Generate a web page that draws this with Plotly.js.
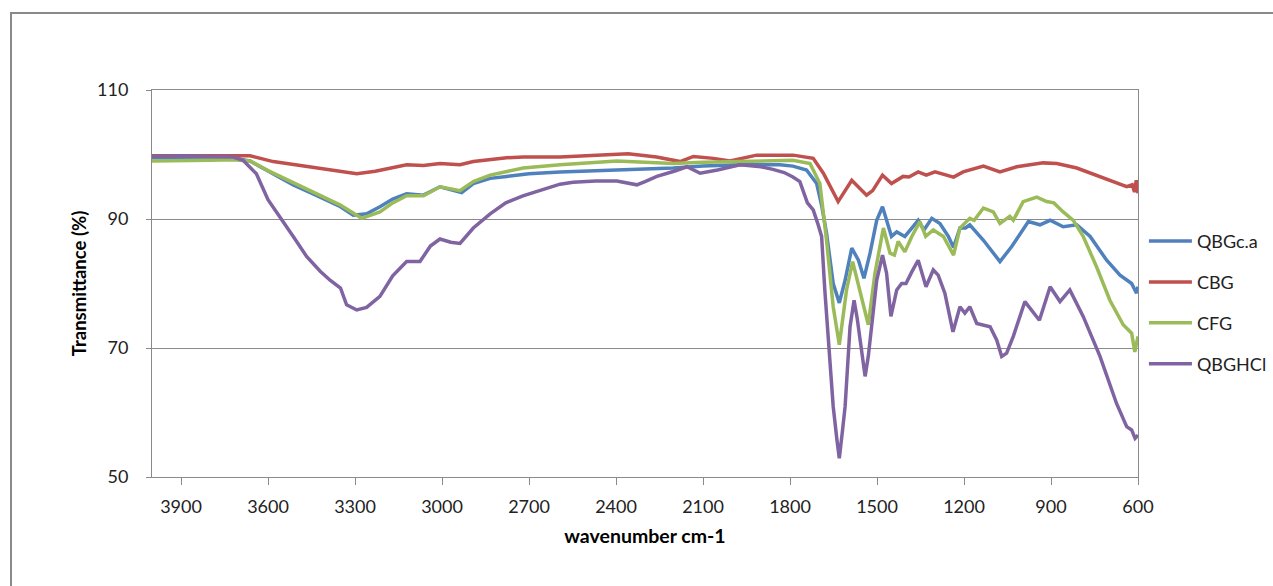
<!DOCTYPE html>
<html>
<head>
<meta charset="utf-8">
<script src="https://cdn.plot.ly/plotly-3.0.1.min.js"></script>
<style>
  html, body { margin: 0; padding: 0; background: #fff; }
  #frame { position: absolute; left: 10px; top: 12px; width: 1300px; height: 700px;
           border-left: 2px solid #8a8a8a; border-top: 2px solid #8a8a8a; pointer-events: none; }
  #chart { position: absolute; left: 0; top: 0; width: 1273px; height: 586px; }
</style>
</head>
<body>
<div id="chart"></div>
<div id="frame"></div>
<script>
// ---- Data ----
const seriesNames = ["QBGc.a", "CBG", "CFG", "QBGHCl"];

const qbgcaWn = [4000,3900,3800,3720,3662,3600,3513,3450,3398,3350,3306,3260,3214,3170,3122,3064,3007,2970,2932,2892,2834,2777,2700,2593,2470,2362,2300,2203,2100,1972,1835,1790,1743,1708,1690,1674,1651,1630,1610,1587,1564,1545,1524,1501,1481,1467,1450,1432,1404,1380,1358,1338,1311,1283,1254,1236,1214,1195,1180,1133,1076,1036,978,938,903,858,811,765,708,662,622,605,600];
const qbgcaT  = [99.5,99.5,99.5,99.4,99.0,97.5,95.3,94.0,92.9,91.9,90.6,90.8,91.9,93.1,93.9,93.7,95.0,94.6,94.1,95.5,96.3,96.6,97.0,97.3,97.5,97.6,97.7,97.9,98.2,98.4,98.4,98.2,97.6,95.5,91.9,87.8,80.0,77.0,80.5,85.5,83.6,80.8,84.7,89.8,91.9,89.8,87.3,88.0,87.3,88.6,89.8,88.3,90.1,89.3,87.3,85.6,88.6,88.6,89.1,86.7,83.4,85.7,89.6,89.1,89.8,88.8,89.1,87.3,83.6,81.3,80.0,78.5,79.5];

const cbgWn = [4000,3900,3800,3662,3582,3467,3380,3294,3230,3179,3122,3064,3007,2938,2892,2777,2720,2593,2470,2358,2260,2179,2133,2064,2007,1915,1835,1789,1720,1685,1634,1587,1536,1515,1481,1450,1410,1390,1358,1330,1300,1236,1203,1133,1076,1018,927,880,811,743,674,639,620,612,606,600];
const cbgT  = [99.8,99.8,99.8,99.8,98.9,98.1,97.5,97.0,97.4,97.9,98.4,98.3,98.6,98.4,98.9,99.5,99.6,99.6,99.8,100.1,99.6,98.9,99.7,99.4,99.0,99.9,99.9,99.9,99.4,97.1,92.7,96.0,93.7,94.4,96.8,95.5,96.6,96.5,97.3,96.8,97.3,96.5,97.3,98.2,97.3,98.1,98.7,98.6,97.9,96.8,95.6,95.0,95.3,94.2,96.0,94.0];

const cfgWn = [4000,3900,3800,3720,3662,3600,3559,3444,3352,3277,3214,3170,3122,3064,3007,2938,2892,2834,2720,2593,2470,2397,2300,2203,2100,1972,1835,1790,1731,1697,1674,1651,1630,1605,1584,1559,1530,1507,1478,1455,1440,1427,1404,1380,1352,1332,1306,1271,1236,1214,1180,1165,1133,1099,1076,1042,1030,996,949,915,890,858,823,789,743,697,651,622,611,600];
const cfgT  = [99.0,99.0,99.1,99.2,99.0,97.5,96.6,94.2,92.2,90.1,91.1,92.5,93.6,93.6,95.0,94.4,95.8,96.8,97.9,98.4,98.8,99.0,98.8,98.6,98.8,98.9,99.1,99.1,98.6,95.5,86.7,76.4,70.5,79.0,83.4,79.0,73.6,81.6,88.6,84.7,84.4,86.5,84.9,87.3,89.6,87.3,88.3,87.3,84.4,88.6,90.1,89.8,91.7,91.1,89.3,90.4,89.8,92.7,93.4,92.7,92.5,91.1,89.8,87.3,82.6,77.4,73.6,72.3,69.4,71.8];

const qbghclWn = [4000,3900,3800,3720,3686,3640,3600,3559,3510,3467,3420,3386,3350,3329,3294,3260,3214,3170,3122,3076,3040,3007,2970,2938,2892,2834,2780,2721,2650,2593,2548,2470,2397,2328,2300,2259,2200,2155,2110,2050,1972,1900,1859,1820,1790,1766,1740,1720,1705,1691,1680,1668,1651,1638,1630,1620,1610,1593,1579,1568,1559,1541,1530,1515,1501,1481,1467,1452,1432,1415,1400,1380,1358,1331,1306,1289,1266,1238,1214,1197,1180,1156,1110,1087,1070,1053,1030,990,967,940,903,869,835,789,731,674,639,622,610,600];
const qbghclT  = [99.7,99.8,99.7,99.6,99.1,97.0,93.0,90.4,87.1,84.2,81.9,80.5,79.3,76.7,75.9,76.3,78.0,81.2,83.4,83.4,85.8,86.9,86.4,86.2,88.6,90.8,92.5,93.6,94.6,95.4,95.7,95.9,95.9,95.3,95.8,96.6,97.4,98.1,97.1,97.6,98.4,98.1,97.7,97.2,96.5,95.8,92.5,91.4,89.4,87.3,79.0,71.2,60.9,55.7,52.9,56.8,60.9,73.3,77.4,74.5,71.2,65.6,68.7,75.4,80.5,84.4,81.6,74.9,79.0,80.0,80.0,81.8,83.6,79.5,82.1,81.3,78.5,72.5,76.4,75.4,76.4,73.8,73.3,71.2,68.7,69.2,71.8,77.2,75.9,74.3,79.5,77.2,79.0,74.9,68.7,61.4,57.8,57.3,56.0,56.5];

const xTickVals = [3900,3600,3300,3000,2700,2400,2100,1800,1500,1200,900,600];
const yTickVals = [50,70,90,110];

const colors = ["#4F81BD", "#C0504D", "#9BBB59", "#8064A2"];
const xs = [qbgcaWn, cbgWn, cfgWn, qbghclWn];
const ys = [qbgcaT, cbgT, cfgT, qbghclT];

const traces = seriesNames.map((n, i) => ({
  type: "scatter", mode: "lines", name: n,
  x: xs[i], y: ys[i], legendgroup: "g" + i,
  line: { color: colors[i], width: 3.5 }
}));

const FONT = "Lato, 'Open Sans', sans-serif";
const layout = {
  width: 1273, height: 586,
  margin: { l: 152, r: 135, t: 90, b: 109, autoexpand: false },
  paper_bgcolor: "#fff", plot_bgcolor: "#fff",
  font: { family: FONT, size: 18, color: "#222" },
  showlegend: true,
  legend: { x: 1.006, xanchor: "left", y: 0.45, yanchor: "middle",
            font: { family: FONT, size: 18, color: "#222" }, tracegroupgap: 14.5,
            itemwidth: 43, bgcolor: "rgba(0,0,0,0)" },
  xaxis: {
    range: [4000, 600], tickmode: "array", tickvals: xTickVals,
    ticks: "outside", ticklen: 7, tickcolor: "#8a8a8a", tickwidth: 1,
    showline: true, linecolor: "#8a8a8a", linewidth: 1, mirror: true,
    showgrid: false, zeroline: false, ticklabelstandoff: 6,
    tickfont: { size: 18, color: "#222" },
    title: { text: "wavenumber cm-1", font: { size: 19.5, color: "#000", weight: "bold" }, standoff: 13 }
  },
  yaxis: {
    range: [50, 110], tickmode: "array", tickvals: yTickVals,
    ticks: "outside", ticklen: 5, tickcolor: "#8a8a8a", tickwidth: 1,
    showline: true, linecolor: "#8a8a8a", linewidth: 1, mirror: true,
    showgrid: true, gridcolor: "#8a8a8a", gridwidth: 1, zeroline: false,
    ticklabelstandoff: 14,
    tickfont: { size: 18, color: "#222" },
    title: { text: "Transmittance (%)", font: { size: 18.5, color: "#000", weight: "bold" }, standoff: 5 }
  }
};

Plotly.newPlot("chart", traces, layout, { staticPlot: true, displayModeBar: false });
</script>
</body>
</html>
